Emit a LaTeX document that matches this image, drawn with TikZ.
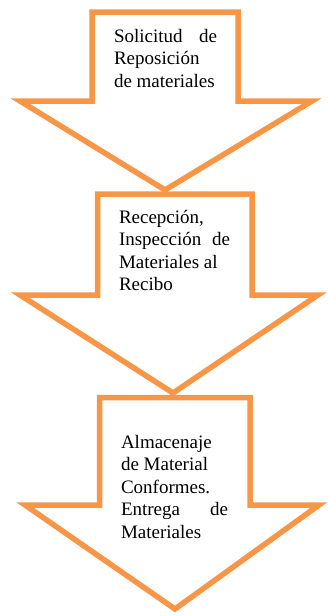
\documentclass[tikz,border=0pt]{standalone}
\usepackage{fontspec}
\setmainfont{Liberation Serif}
\definecolor{arrowor}{RGB}{247,150,70}
\newcommand\jline[2]{\makebox[#1][s]{#2}}
\tikzset{
  blockarrow/.style={draw=arrowor, line width=5.5pt, fill=white, line join=miter, miter limit=10},
  lbl/.style={anchor=base west, inner sep=0pt, outer sep=0pt, font=\fontsize{19}{22.5}\selectfont}
}
\begin{document}
\begin{tikzpicture}[x=1pt,y=-1pt]
\useasboundingbox (0,0) rectangle (328,616);
% arrow 1
\draw[blockarrow] (92,12) -- (238,12) -- (238,101) -- (312,101) -- (165,190) -- (20,101) -- (92,101) -- cycle;
% arrow 2
\draw[blockarrow] (97.5,194) -- (252,194) -- (252,295) -- (318,295) -- (173,393) -- (20,295) -- (97.5,295) -- cycle;
% arrow 3
\draw[blockarrow] (99.5,397.5) -- (250,397.5) -- (250,505) -- (319,505) -- (175,609) -- (25,505) -- (99.5,505) -- cycle;
% texts
\node[lbl] (t1) at (114,42) {\parbox[t]{103pt}{\raggedright
  \jline{103pt}{Solicitud de}\\Reposición\\de materiales}};
\node[lbl] (t2) at (119,223) {\parbox[t]{111pt}{\raggedright
  Recepción,\\\jline{111pt}{Inspección de}\\Materiales al\\Recibo}};
\node[lbl] (t3) at (121,448) {\parbox[t]{107pt}{\raggedright
  Almacenaje\\de Material\\Conformes.\\\jline{107pt}{Entrega de}\\Materiales}};
\end{tikzpicture}
\end{document}
